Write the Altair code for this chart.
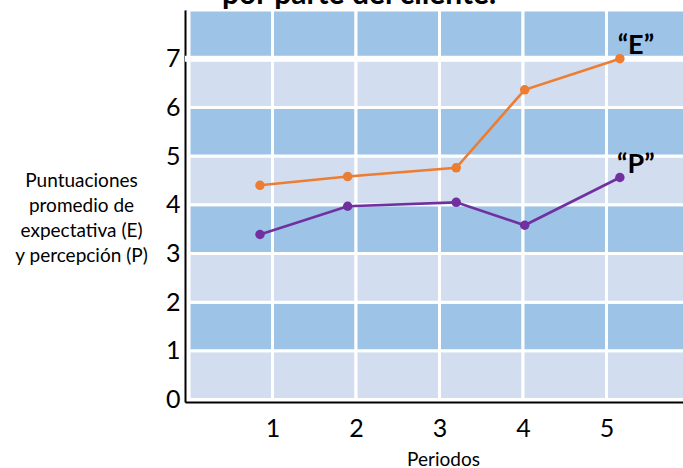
import altair as alt
import pandas as pd

# Period positions and average scores for expectation (E) and perception (P)
periodos = [0.85, 1.9, 3.2, 4.02, 5.16]
expectativa = [4.40, 4.58, 4.76, 6.36, 7.00]
percepcion = [3.39, 3.97, 4.05, 3.58, 4.56]
series_labels = ["“E”", "“P”"]
titulo = "por parte del cliente."

x_ticks = [1, 2, 3, 4, 5]
y_ticks = [0, 1, 2, 3, 4, 5, 6, 7]

ORANGE = "#ED7D31"
PURPLE = "#7030A0"
DARK = "#9DC3E6"
LIGHT = "#D2DEEF"
FONT = "Lato"

lines = pd.DataFrame(
    {
        "periodo": periodos * 2,
        "valor": expectativa + percepcion,
        "serie": ["E"] * len(periodos) + ["P"] * len(periodos),
    }
)

# Banded background cells: one per unit column and unit row
cells = pd.DataFrame(
    [
        {"x0": i, "x1": i + 1, "y0": j, "y1": j + 1, "banda": "oscura" if j % 2 else "clara"}
        for i in range(6)
        for j in range(8)
    ]
)

end_labels = pd.DataFrame(
    {
        "periodo": [periodos[-1], periodos[-1]],
        "valor": [expectativa[-1], percepcion[-1]],
        "texto": series_labels,
    }
)

x_scale = alt.Scale(domain=[-0.048, 5.916], nice=False, zero=False)
y_scale = alt.Scale(domain=[-0.05, 8], nice=False, zero=False)

x_axis = alt.Axis(
    values=x_ticks,
    format="d",
    title="Periodos",
    grid=False,
    ticks=False,
    domainColor="black",
    domainWidth=2,
    labelFont=FONT,
    labelFontSize=25,
    labelColor="black",
    labelPadding=14,
    titleFont=FONT,
    titleFontSize=19,
    titleFontWeight="normal",
    titleColor="black",
    titleX=258,
    titlePadding=9,
)

y_axis = alt.Axis(
    values=y_ticks,
    format="d",
    title=["Puntuaciones", "promedio de", "expectativa (E)", "y percepción (P)"],
    grid=False,
    ticks=False,
    domainColor="black",
    domainWidth=2,
    labelFont=FONT,
    labelFontSize=25,
    labelColor="black",
    labelPadding=5,
    titleFont=FONT,
    titleFontSize=19,
    titleFontWeight="normal",
    titleColor="black",
    titleAngle=0,
    titleAlign="center",
    titleBaseline="top",
    titleX=-104,
    titleY=161,
    titleLineHeight=25,
)

background = (
    alt.Chart(cells)
    .mark_rect(stroke="white", strokeWidth=3, clip=True)
    .encode(
        x=alt.X("x0:Q", scale=x_scale, axis=x_axis),
        x2="x1:Q",
        y=alt.Y("y0:Q", scale=y_scale, axis=y_axis),
        y2="y1:Q",
        color=alt.Color(
            "banda:N",
            scale=alt.Scale(domain=["clara", "oscura"], range=[LIGHT, DARK]),
            legend=None,
        ),
    )
)

# Wider white separator at the 7 line
sep = (
    alt.Chart(pd.DataFrame({"y": [7]}))
    .mark_rule(color="white", strokeWidth=6)
    .encode(y=alt.Y("y:Q", scale=y_scale))
)

color_scale = alt.Scale(domain=["E", "P"], range=[ORANGE, PURPLE])

series = (
    alt.Chart(lines)
    .mark_line(strokeWidth=2.6, point=alt.OverlayMarkDef(size=90, filled=True, opacity=1))
    .encode(
        x=alt.X("periodo:Q", scale=x_scale),
        y=alt.Y("valor:Q", scale=y_scale),
        color=alt.Color("serie:N", scale=color_scale, legend=None),
        detail="serie:N",
    )
)

labels = (
    alt.Chart(end_labels)
    .mark_text(
        font=FONT,
        fontSize=27,
        fontWeight="bold",
        color="black",
        align="center",
        baseline="middle",
        dx=16,
        dy=-13,
    )
    .encode(
        x=alt.X("periodo:Q", scale=x_scale),
        y=alt.Y("valor:Q", scale=y_scale),
        text="texto:N",
    )
)

# Heading text sitting above the plot, partly outside the page
heading = (
    alt.Chart(pd.DataFrame({"t": [titulo]}))
    .mark_text(
        font=FONT,
        fontSize=30,
        fontWeight="bold",
        color="black",
        align="left",
        baseline="alphabetic",
    )
    .encode(x=alt.value(37), y=alt.value(-6), text="t:N")
)

chart = (
    alt.layer(background, sep, series, labels, heading)
    .resolve_scale(color="independent")
    .properties(
        width=498,
        height=392,
        autosize=alt.AutoSizeParams(type="none"),
        padding={"left": 185, "top": 10, "right": 0, "bottom": 66},
    )
    .configure_view(stroke=None)
    .configure(background="white")
)

chart.save("out.html", embed_options={"renderer": "svg", "actions": False})
